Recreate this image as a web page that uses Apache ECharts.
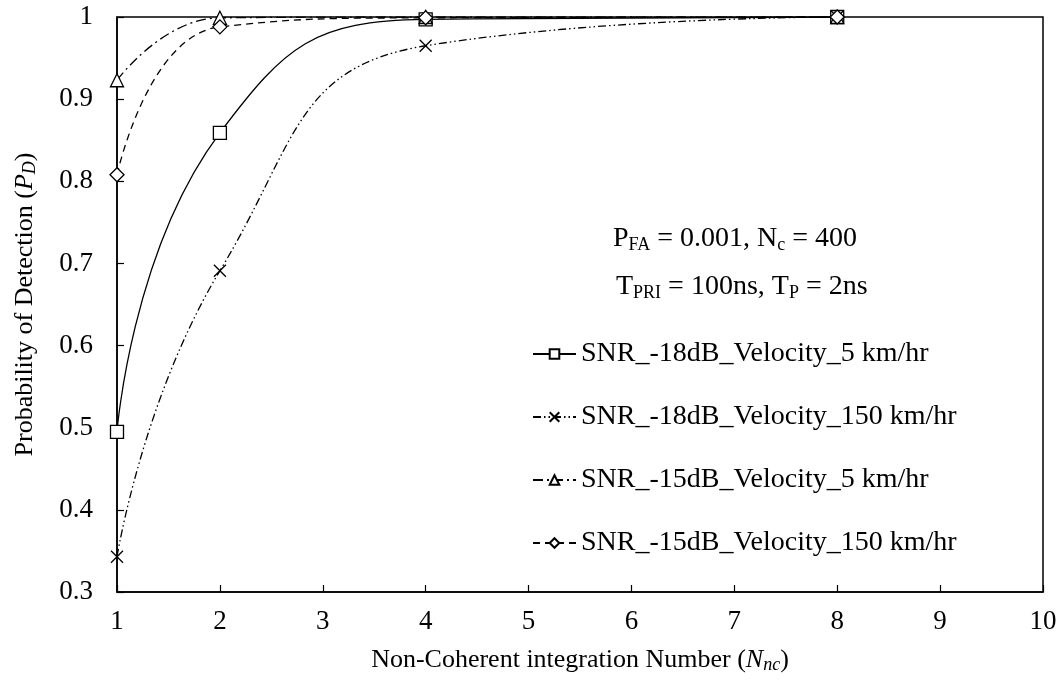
<!DOCTYPE html>
<html>
<head>
<meta charset="utf-8">
<script src="https://cdn.jsdelivr.net/npm/echarts@6/dist/echarts.min.js"></script>
<style>
  html, body { margin: 0; padding: 0; background: #fff; }
  #chart { width: 1062px; height: 687px; }
</style>
</head>
<body>
<div id="chart"></div>
<script>
// Non-coherent integration numbers and detection probabilities
const nncValues = [1, 2, 4, 8];
const snr18v5 = [0.495, 0.859, 0.997, 1.0];
const snr18v150 = [0.343, 0.691, 0.965, 1.0];
const snr15v5 = [0.923, 0.999, 1.0, 1.0];
const snr15v150 = [0.808, 0.988, 0.999, 1.0];
const seriesNames = [
  'SNR_-18dB_Velocity_5 km/hr',
  'SNR_-18dB_Velocity_150 km/hr',
  'SNR_-15dB_Velocity_5 km/hr',
  'SNR_-15dB_Velocity_150 km/hr'
];
const xTicks = { min: 1, max: 10, interval: 1 };
const yTicks = { min: 0.3, max: 1, interval: 0.1 };

const FONT = '"Liberation Serif", "Times New Roman", serif';
const pairs = ys => nncValues.map((x, i) => [x, ys[i]]);

function lineSeries(name, ys, dash, symbol, size) {
  return {
    name: name,
    type: 'line',
    data: pairs(ys),
    smooth: 0.5,
    symbol: symbol,
    symbolSize: size,
    showAllSymbol: true,
    clip: true,
    lineStyle: { color: '#000', width: 1.3, type: dash },
    itemStyle: { color: '#fff', borderColor: '#000', borderWidth: 1.3 },
    emphasis: { disabled: true }
  };
}

const axisRich = {
  n: { fontFamily: FONT, fontSize: 26, color: '#000' },
  i: { fontFamily: FONT, fontSize: 26, fontStyle: 'italic', color: '#000' },
  s: { fontFamily: FONT, fontSize: 18, fontStyle: 'italic', color: '#000', padding: [10, 0, 0, 0] }
};
const noteRich = {
  n: { fontFamily: FONT, fontSize: 28, fill: '#000' },
  s: { fontFamily: FONT, fontSize: 18, fill: '#000', padding: [12, 0, 0, 0] }
};

const chart = echarts.init(document.getElementById('chart'), null, { renderer: 'canvas' });
chart.setOption({
  animation: false,
  backgroundColor: '#fff',
  grid: { left: 117, right: 19, top: 17, bottom: 95, show: true, borderColor: '#000', borderWidth: 1.5 },
  xAxis: {
    type: 'value',
    min: xTicks.min, max: xTicks.max, interval: xTicks.interval,
    axisLine: { lineStyle: { color: '#000', width: 1.5 } },
    axisTick: { inside: true, length: 7, lineStyle: { color: '#000', width: 1.2 } },
    splitLine: { show: false },
    axisLabel: { color: '#000', fontFamily: FONT, fontSize: 27, margin: 16 },
    name: '{n|Non-Coherent integration Number (}{i|N}{s|nc}{n|)}',
    nameLocation: 'middle',
    nameGap: 54,
    nameTextStyle: { rich: axisRich }
  },
  yAxis: {
    type: 'value',
    min: yTicks.min, max: yTicks.max, interval: yTicks.interval,
    axisLine: { lineStyle: { color: '#000', width: 1.5 } },
    axisTick: { inside: true, length: 7, lineStyle: { color: '#000', width: 1.2 } },
    splitLine: { show: false },
    axisLabel: { color: '#000', fontFamily: FONT, fontSize: 27, margin: 24 },
    name: '{n|Probability of Detection (}{i|P}{s|D}{n|)}',
    nameLocation: 'middle',
    nameGap: 78,
    nameRotate: 90,
    nameTextStyle: { rich: axisRich }
  },
  legend: {
    orient: 'vertical',
    left: 527,
    top: 335,
    itemWidth: 43,
    itemHeight: 12,
    itemGap: 35,
    selectedMode: false,
    textStyle: { fontFamily: FONT, fontSize: 28, color: '#000' },
    data: seriesNames
  },
  graphic: [
    {
      type: 'text', left: 613, top: 225,
      style: { text: '{n|P}{s|FA}{n| = 0.001, N}{s|c}{n| = 400}', rich: noteRich }
    },
    {
      type: 'text', left: 616, top: 273,
      style: { text: '{n|T}{s|PRI}{n| = 100ns, T}{s|P}{n| = 2ns}', rich: noteRich }
    }
  ],
  series: [
    lineSeries(seriesNames[0], snr18v5, 'solid', 'rect', 13),
    lineSeries(seriesNames[1], snr18v150, [8, 3, 1.5, 3, 1.5, 3], 'path://M0,0L10,10M10,0L0,10', 12),
    lineSeries(seriesNames[2], snr15v5, [10, 4, 2, 4], 'triangle', 13),
    lineSeries(seriesNames[3], snr15v150, [7, 5], 'diamond', 14)
  ]
});
</script>
</body>
</html>
